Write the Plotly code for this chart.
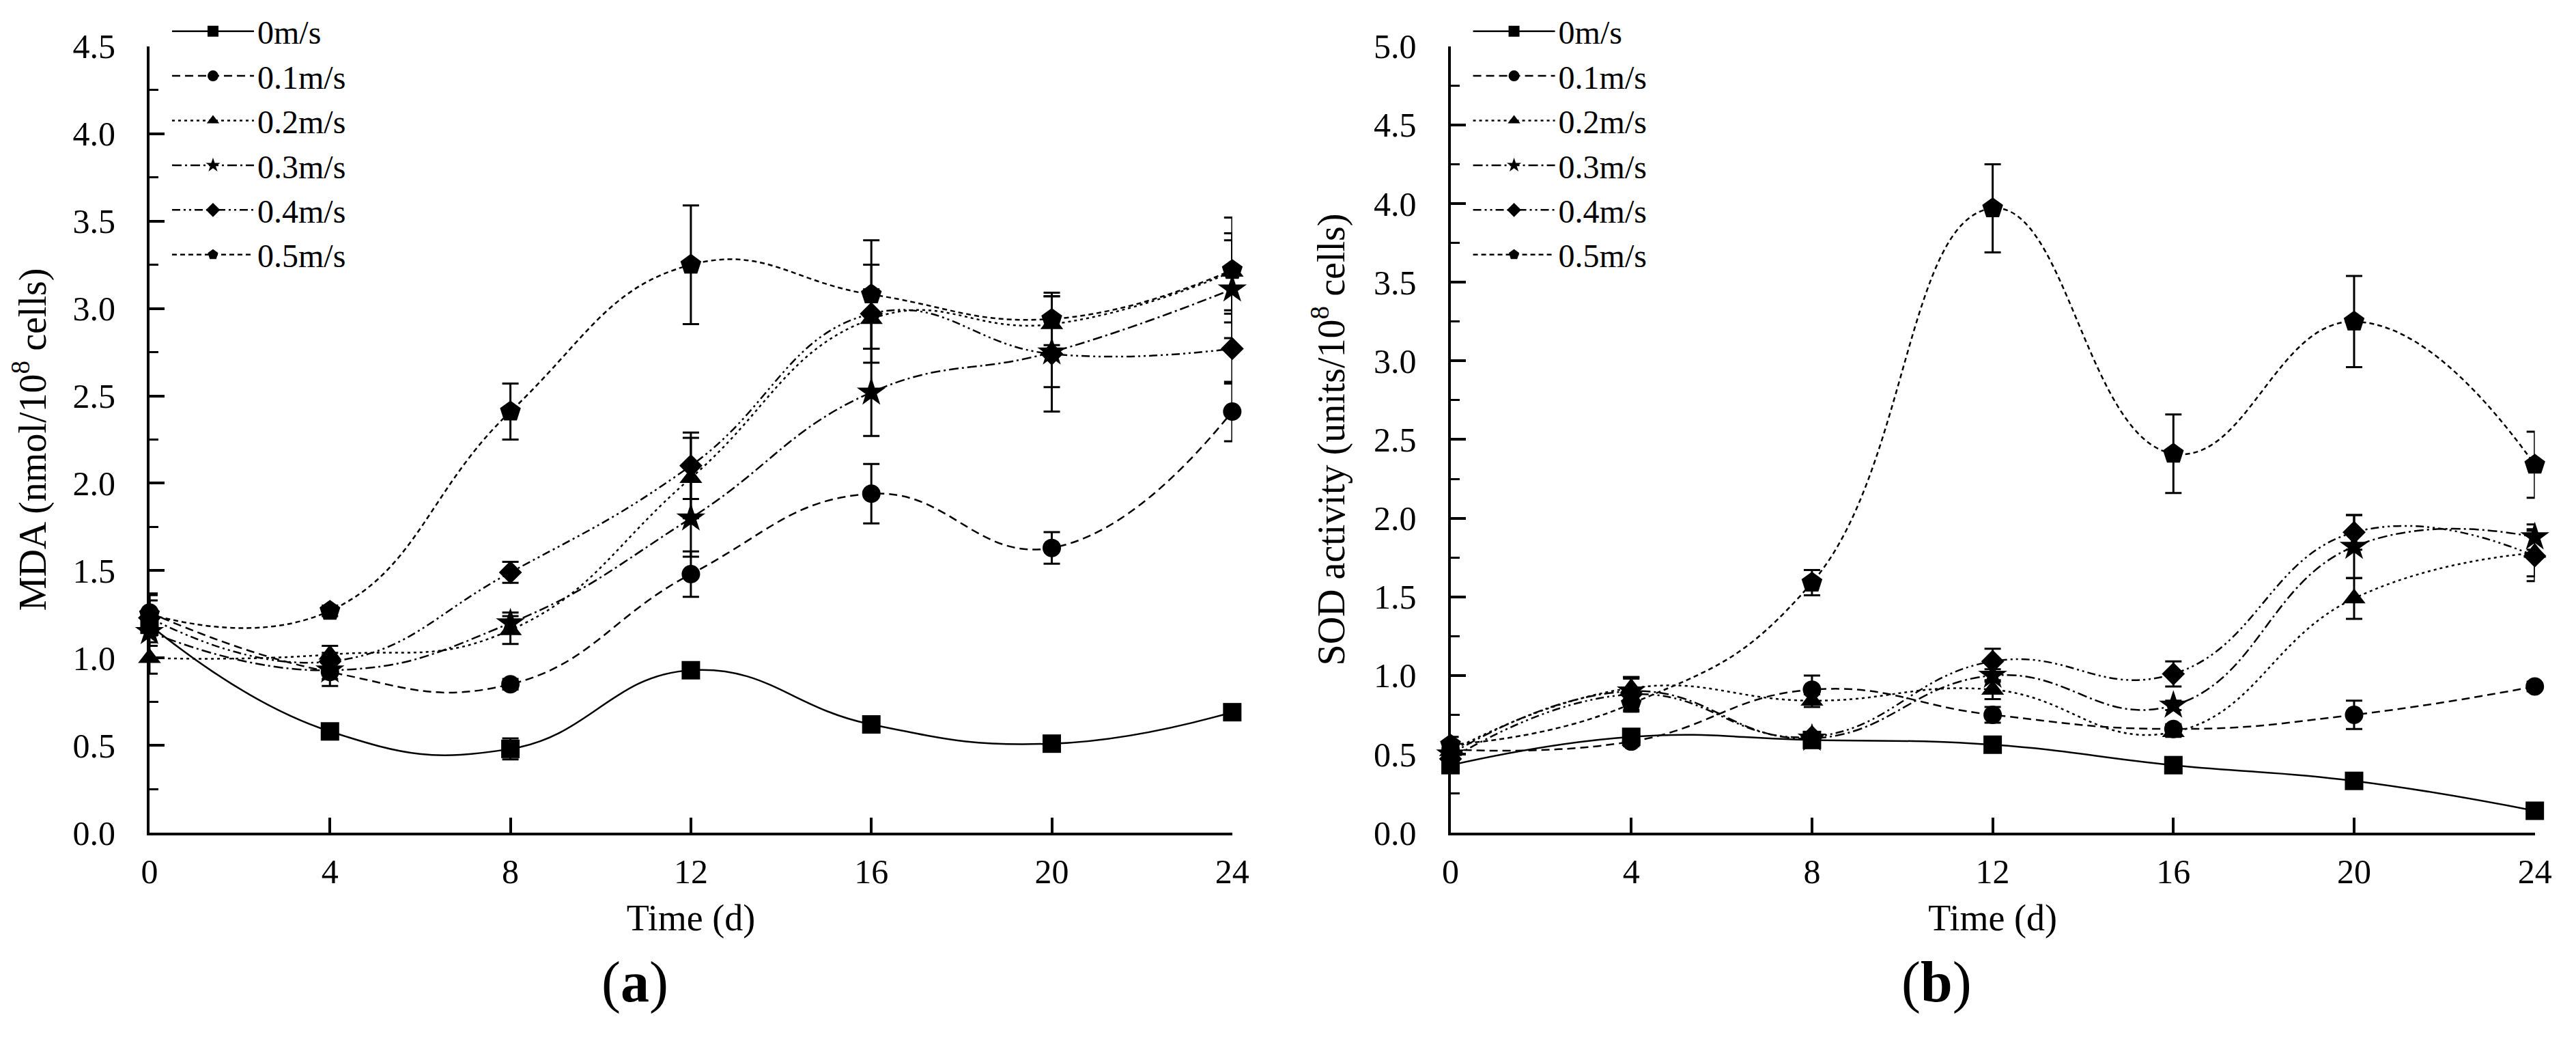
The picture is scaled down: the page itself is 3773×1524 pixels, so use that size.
import plotly.graph_objects as go

# sampling days
days = [0, 4, 8, 12, 16, 20, 24]
speeds = ["0m/s", "0.1m/s", "0.2m/s", "0.3m/s", "0.4m/s", "0.5m/s"]

# (a) MDA, nmol/10^8 cells
mda_00 = [1.19, 0.58, 0.48, 0.93, 0.62, 0.51, 0.69]
mda_01 = [1.26, 0.92, 0.85, 1.48, 1.94, 1.63, 2.41]
mda_02 = [1.00, 1.02, 1.16, 2.03, 2.94, 2.91, 3.21]
mda_03 = [1.15, 0.93, 1.20, 1.80, 2.52, 2.75, 3.11]
mda_04 = [1.23, 0.98, 1.49, 2.10, 2.97, 2.74, 2.77]
mda_05 = [1.25, 1.27, 2.41, 3.25, 3.08, 2.94, 3.22]

mda_err_00 = [0.05, 0.03, 0.06, 0.03, 0.03, 0.02, 0.03]
mda_err_01 = [0.10, 0.08, 0.03, 0.13, 0.17, 0.09, 0.17]
mda_err_02 = [0.09, 0.05, 0.08, 0.23, 0.17, 0.16, 0.22]
mda_err_03 = [0.08, 0.05, 0.06, 0.22, 0.25, 0.20, 0.28]
mda_err_04 = [0.10, 0.05, 0.06, 0.19, 0.28, 0.33, 0.20]
mda_err_05 = [0.12, 0.03, 0.16, 0.34, 0.31, 0.15, 0.30]

# (b) SOD activity, units/10^8 cells
sod_00 = [0.43, 0.61, 0.59, 0.56, 0.43, 0.33, 0.14]
sod_01 = [0.53, 0.58, 0.91, 0.75, 0.66, 0.75, 0.93]
sod_02 = [0.52, 0.92, 0.84, 0.91, 0.64, 1.49, 1.78]
sod_03 = [0.50, 0.90, 0.60, 1.00, 0.81, 1.82, 1.88]
sod_04 = [0.47, 0.88, 0.61, 1.09, 1.01, 1.91, 1.76]
sod_05 = [0.56, 0.82, 1.59, 3.97, 2.41, 3.25, 2.34]

sod_err_00 = [0.03, 0.02, 0.03, 0.02, 0.02, 0.02, 0.02]
sod_err_01 = [0.04, 0.03, 0.09, 0.05, 0.03, 0.09, 0.03]
sod_err_02 = [0.04, 0.07, 0.04, 0.06, 0.03, 0.13, 0.15]
sod_err_03 = [0.04, 0.09, 0.03, 0.04, 0.03, 0.20, 0.08]
sod_err_04 = [0.05, 0.10, 0.03, 0.08, 0.08, 0.11, 0.16]
sod_err_05 = [0.05, 0.05, 0.08, 0.28, 0.25, 0.29, 0.21]

mda = [mda_00, mda_01, mda_02, mda_03, mda_04, mda_05]
mda_err = [mda_err_00, mda_err_01, mda_err_02, mda_err_03, mda_err_04, mda_err_05]
sod = [sod_00, sod_01, sod_02, sod_03, sod_04, sod_05]
sod_err = [sod_err_00, sod_err_01, sod_err_02, sod_err_03, sod_err_04, sod_err_05]

symbols = ["square", "circle", "triangle-up", "star", "diamond", "pentagon"]
sizes = [27, 27, 29, 32, 26, 32]
dashes = ["solid", "12px,7px", "4px,5px", "14px,5px,3px,5px",
          "12px,5px,3px,5px,3px,5px", "7px,5px"]

FONT = "Liberation Serif"

fig = go.Figure()

def add_panel(values, errors, xa, ya, leg):
    for i in range(len(speeds)):
        fig.add_trace(go.Scatter(
            x=days, y=values[i], name=speeds[i],
            mode="lines+markers",
            line=dict(color="black", width=2.5, dash=dashes[i], shape="spline", smoothing=1.3),
            marker=dict(symbol=symbols[i], size=sizes[i], color="black"),
            error_y=dict(type="data", array=errors[i], visible=True,
                         color="black", thickness=3, width=12),
            xaxis=xa, yaxis=ya, legend=leg, cliponaxis=False,
        ))

add_panel(mda, mda_err, "x", "y", "legend")
add_panel(sod, sod_err, "x2", "y2", "legend2")

axis_common = dict(
    showline=True, linecolor="black", linewidth=4, mirror=False,
    ticks="inside", ticklen=22, tickwidth=4, tickcolor="black",
    showgrid=False, zeroline=False,
    tickfont=dict(family=FONT, size=50, color="black"),
)

xcommon = dict(axis_common, range=[0, 24], tickvals=days, ticklabelstandoff=10,
               title=dict(text="Time (d)", font=dict(family=FONT, size=54, color="black"), standoff=22))

ycommon = dict(axis_common, domain=[0.1936, 0.979], dtick=0.5, tickformat=".1f",
               ticklabelstandoff=36,
               minor=dict(ticks="inside", ticklen=13, tickwidth=3, tickcolor="black", dtick=0.25))

legend_common = dict(y=1.02, xanchor="left", yanchor="top", bgcolor="rgba(0,0,0,0)",
                     font=dict(family=FONT, size=48, color="black"),
                     itemwidth=120, tracegroupgap=0)

fig.update_layout(
    width=3773, height=1524,
    paper_bgcolor="white", plot_bgcolor="white",
    margin=dict(l=0, r=0, t=0, b=0),
    font=dict(family=FONT, color="black"),
    xaxis=dict(xcommon, domain=[0.053, 0.4776], anchor="y"),
    xaxis2=dict(xcommon, domain=[0.5632, 0.9884], anchor="y2"),
    yaxis=dict(ycommon, anchor="x", range=[0, 4.5],
               title=dict(text="MDA (nmol/10<sup>8</sup> cells)",
                          font=dict(family=FONT, size=56, color="black"), standoff=25)),
    yaxis2=dict(ycommon, anchor="x2", range=[0, 5],
                title=dict(text="SOD activity (units/10<sup>8</sup> cells)",
                           font=dict(family=FONT, size=56, color="black"), standoff=25)),
    legend=dict(legend_common, x=0.0605),
    legend2=dict(legend_common, x=0.5707),
    showlegend=True,
)

# panel letters
for label, xpos in [("(<b>a</b>)", 0.2433), ("(<b>b</b>)", 0.7538)]:
    fig.add_annotation(text=label, x=xpos, y=0.044, xref="paper", yref="paper",
                       xanchor="center", yanchor="middle", showarrow=False,
                       font=dict(family=FONT, size=84, color="black"))

fig.write_html("out.html")
